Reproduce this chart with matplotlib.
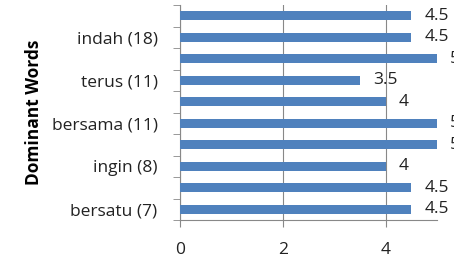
import matplotlib
matplotlib.use("Agg")
import matplotlib.pyplot as plt
import numpy as np

# categories bottom -> top; only every other one is labelled in the chart
words = ["bersatu (7)", "", "ingin (8)", "", "bersama (11)", "",
         "terus (11)", "", "indah (18)", ""]
scores = [4.5, 4.5, 4, 5, 5, 4, 3.5, 5, 4.5, 4.5]
value_labels = ["4.5", "4.5", "4", "5", "5", "4", "3.5", "5", "4.5", "4.5"]

plt.rcParams["font.family"] = ["Open Sans", "DejaVu Sans"]

fig = plt.figure(figsize=(4.54, 2.57), dpi=100)
ax = fig.add_axes([0.396, 0.144, 0.567, 0.836])

pos = np.arange(len(words))
ax.barh(pos, scores, height=0.42, color="#4F81BD", zorder=3)

for p, v, lab in zip(pos, scores, value_labels):
    ax.text(v + 0.25, p, lab, va="center", ha="left", fontsize=12.5,
            color="#222222", clip_on=False)

ax.set_xlim(0, 5)
ax.set_ylim(-0.5, len(words) - 0.5)
ax.set_xticks([0, 2, 4])
ax.set_yticks(pos)
ax.set_yticklabels(words, fontsize=12.5, color="#222222")
ax.set_yticks(np.arange(-0.5, len(words), 1), minor=True)
ax.tick_params(axis="y", which="major", length=0, pad=16)
ax.tick_params(axis="y", which="minor", length=5, color="#888888")
ax.tick_params(axis="x", length=5, color="#888888", labelsize=12.5,
               labelcolor="#222222", pad=11)

ax.grid(axis="x", color="#888888", linewidth=0.8, zorder=0)
for s in ["top", "right"]:
    ax.spines[s].set_visible(False)
for s in ["left", "bottom"]:
    ax.spines[s].set_color("#888888")

ax.set_ylabel("Dominant Words", fontsize=12.5, fontweight="bold", labelpad=6)

fig.savefig("out.png", dpi=100)
